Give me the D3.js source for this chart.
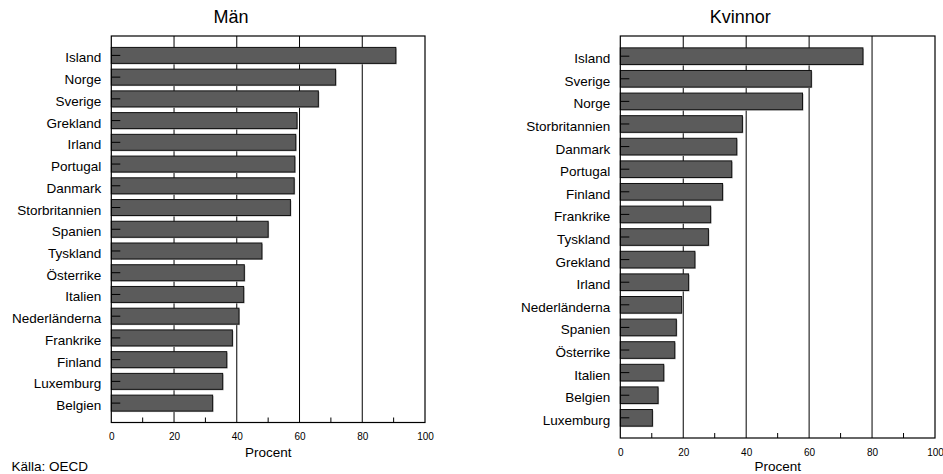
<!DOCTYPE html>
<html>
<head>
<meta charset="utf-8">
<script src="https://cdn.jsdelivr.net/npm/d3@7"></script>
<style>
  html, body { margin: 0; padding: 0; background: #fff; }
  svg { display: block; font-family: "Liberation Sans", Arial, Helvetica, sans-serif; }
</style>
</head>
<body>
<svg id="chart" width="943" height="474"></svg>
<script>
// ---- Data ----
const categoriesMen = ["Island", "Norge", "Sverige", "Grekland", "Irland", "Portugal", "Danmark",
  "Storbritannien", "Spanien", "Tyskland", "Österrike", "Italien", "Nederländerna", "Frankrike",
  "Finland", "Luxemburg", "Belgien"];
const valuesMen = [90.7, 71.5, 66.0, 59.2, 58.8, 58.5, 58.3, 57.1, 50.0, 48.0, 42.4, 42.2, 40.7,
  38.6, 36.8, 35.5, 32.3];

const categoriesWomen = ["Island", "Sverige", "Norge", "Storbritannien", "Danmark", "Portugal",
  "Finland", "Frankrike", "Tyskland", "Grekland", "Irland", "Nederländerna", "Spanien", "Österrike",
  "Italien", "Belgien", "Luxemburg"];
const valuesWomen = [77.1, 60.7, 57.9, 38.8, 37.0, 35.4, 32.5, 28.7, 28.0, 23.7, 21.7, 19.5, 17.8,
  17.3, 13.8, 12.0, 10.2];

const xTickValues = [0, 20, 40, 60, 80, 100];
const xMinorTicks = [10, 30, 50, 70, 90];
const gridValues = [20, 40, 60, 80];
const titles = ["Män", "Kvinnor"];
const xAxisLabel = "Procent";
const sourceText = "Källa: OECD";

// ---- Drawing ----
const svg = d3.select("#chart");

function panel(cfg) {
  const { cats, vals, left, right, top, bottom, title, titleX, tickLabelY, axisLabelY } = cfg;
  const g = svg.append("g");
  const x = d3.scaleLinear().domain([0, 100]).range([left, right]);
  const y = d3.scaleBand().domain(cats).range([top, bottom]).paddingInner(0.265).paddingOuter(0.525);

  // gridlines
  g.selectAll("line.grid").data(gridValues).enter().append("line")
    .attr("x1", d => x(d)).attr("x2", d => x(d))
    .attr("y1", top).attr("y2", bottom)
    .attr("stroke", "#000").attr("stroke-width", 1);

  // bar shadows
  g.selectAll("rect.shadow").data(vals).enter().append("rect")
    .attr("x", x(0) + 1)
    .attr("y", (d, i) => y(cats[i]) + 1)
    .attr("width", d => x(d) - x(0))
    .attr("height", y.bandwidth())
    .attr("fill", "#b4b4b4");

  // bars
  g.selectAll("rect.bar").data(vals).enter().append("rect")
    .attr("x", x(0))
    .attr("y", (d, i) => y(cats[i]))
    .attr("width", d => x(d) - x(0))
    .attr("height", y.bandwidth())
    .attr("fill", "#5b5b5b")
    .attr("stroke", "#111")
    .attr("stroke-width", 1);

  // inward y ticks
  g.selectAll("line.ytick").data(cats).enter().append("line")
    .attr("x1", x(0)).attr("x2", x(0) + 9)
    .attr("y1", d => y(d) + y.bandwidth() / 2)
    .attr("y2", d => y(d) + y.bandwidth() / 2)
    .attr("stroke", "#000").attr("stroke-width", 1);

  // minor ticks at bottom
  g.selectAll("line.minor").data(xMinorTicks).enter().append("line")
    .attr("x1", d => x(d)).attr("x2", d => x(d))
    .attr("y1", bottom).attr("y2", bottom - 5)
    .attr("stroke", "#000").attr("stroke-width", 1);

  // frame
  g.append("rect")
    .attr("x", left).attr("y", top)
    .attr("width", right - left).attr("height", bottom - top)
    .attr("fill", "none").attr("stroke", "#000").attr("stroke-width", 1.2);

  // category labels (y axis)
  const yAxis = d3.axisLeft(y).tickSize(0).tickPadding(10);
  const ya = g.append("g").attr("transform", `translate(${left},0)`).call(yAxis);
  ya.select(".domain").remove();
  ya.selectAll("text")
    .attr("dy", "0.52em")
    .attr("font-size", "13.5px")
    .attr("font-family", "'Liberation Sans', Arial, Helvetica, sans-serif")
    .attr("fill", "#000");

  // x tick labels
  const xAxis = d3.axisBottom(x).tickValues(xTickValues).tickSize(0).tickPadding(0);
  const xa = g.append("g").attr("transform", `translate(0,${tickLabelY})`).call(xAxis);
  xa.select(".domain").remove();
  xa.selectAll("text")
    .attr("y", 0).attr("dy", 0)
    .attr("font-size", "10px")
    .attr("font-family", "'Liberation Sans', Arial, Helvetica, sans-serif")
    .attr("fill", "#000");

  // axis label
  g.append("text")
    .attr("x", (left + right) / 2).attr("y", axisLabelY)
    .attr("text-anchor", "middle")
    .attr("font-size", "13.5px")
    .text(xAxisLabel);

  // title
  g.append("text")
    .attr("x", titleX).attr("y", 23.3)
    .attr("text-anchor", "middle")
    .attr("font-size", "18px")
    .text(title);
}

panel({
  cats: categoriesMen, vals: valuesMen,
  left: 111.3, right: 425, top: 36, bottom: 422.5,
  title: titles[0], titleX: 231,
  tickLabelY: 440, axisLabelY: 456.7
});

panel({
  cats: categoriesWomen, vals: valuesWomen,
  left: 620.3, right: 935, top: 36, bottom: 438,
  title: titles[1], titleX: 740.3,
  tickLabelY: 455.7, axisLabelY: 471
});

svg.append("text")
  .attr("x", 11.5).attr("y", 470.5)
  .attr("font-size", "13.5px")
  .text(sourceText);
</script>
</body>
</html>
